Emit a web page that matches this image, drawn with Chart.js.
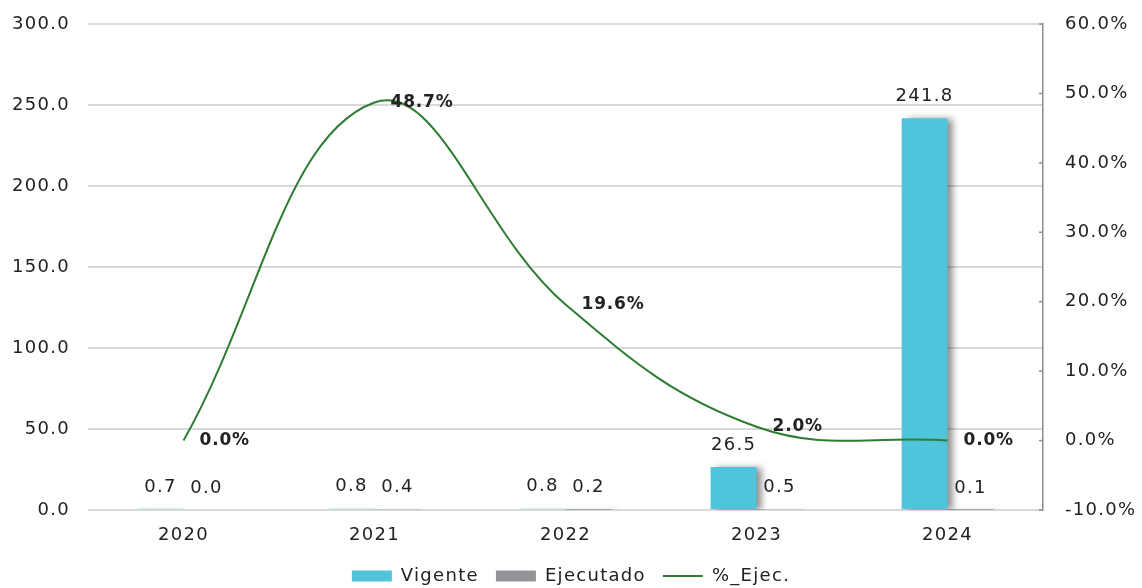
<!DOCTYPE html>
<html>
<head>
<meta charset="utf-8">
<script src="https://cdn.jsdelivr.net/npm/chart.js@4/dist/chart.umd.min.js"></script>
<style>
  html, body { margin: 0; padding: 0; background: #fff; }
  #wrap { width: 1142px; height: 588px; }
</style>
</head>
<body>
<div id="wrap"><canvas id="budgetChart"></canvas></div>
<script>
let years = ['2020', '2021', '2022', '2023', '2024'];
let vigente = [0.7, 0.8, 0.8, 26.5, 241.8];
let ejecutado = [0.0, 0.4, 0.2, 0.5, 0.1];
let pctEjec = [0.0, 48.7, 19.6, 2.0, 0.0];

const fontName = '"DejaVu Sans", sans-serif';
const textColor = '#222222';
const spacing = '1.3px';

// wider letters, like the original font
const letterSpace = {
  id: 'letterSpace',
  beforeUpdate(chart) { chart.ctx.letterSpacing = spacing; },
  beforeDraw(chart) { chart.ctx.letterSpacing = spacing; }
};

// bar shadow on the right side
const barShadow = {
  id: 'barShadow',
  beforeDatasetDraw(chart, args) {
    if (args.meta.type !== 'bar') return;
    const ctx = chart.ctx;
    ctx.save();
    ctx.shadowColor = 'rgba(0,0,0,0.45)';
    ctx.shadowBlur = 7;
    ctx.shadowOffsetX = 5;
    ctx.shadowOffsetY = 1;
  },
  afterDatasetDraw(chart, args) {
    if (args.meta.type !== 'bar') return;
    chart.ctx.restore();
  }
};

// small ticks on the inner side of the right axis
const rightTicks = {
  id: 'rightTicks',
  afterDraw(chart) {
    const s = chart.scales.y1;
    const ctx = chart.ctx;
    ctx.save();
    ctx.strokeStyle = '#8C8C8C';
    ctx.lineWidth = 1.5;
    s.ticks.forEach(t => {
      const y = s.getPixelForValue(t.value);
      ctx.beginPath();
      ctx.moveTo(s.left - 4, y);
      ctx.lineTo(s.left, y);
      ctx.stroke();
    });
    ctx.restore();
  }
};

// value labels
const valueLabels = {
  id: 'valueLabels',
  afterDatasetsDraw(chart) {
    const ctx = chart.ctx;
    chart.data.datasets.forEach((ds, i) => {
      const meta = chart.getDatasetMeta(i);
      meta.data.forEach((el, j) => {
        ctx.save();
        ctx.fillStyle = textColor;
        ctx.textBaseline = 'middle';
        if (meta.type === 'bar') {
          ctx.font = '18px ' + fontName;
          ctx.textAlign = 'center';
          ctx.fillText(ds.data[j].toFixed(1), el.x, el.y - 22);
        } else {
          ctx.letterSpacing = '0.8px';
          ctx.font = 'bold 17px ' + fontName;
          ctx.textAlign = 'left';
          ctx.fillText(ds.data[j].toFixed(1) + '%', el.x + 16, el.y);
        }
        ctx.restore();
      });
    });
  }
};

function fixSide(w) {
  return s => {
    s.width = w;
    s.paddingTop = 0;
    s.paddingBottom = 0;
  };
}

let ctx = document.getElementById('budgetChart').getContext('2d');
let chart = new Chart(ctx, {
  type: 'bar',
  data: {
    labels: years,
    datasets: [{
      label: 'Vigente',
      data: vigente,
      backgroundColor: '#4FC4DA',
      borderWidth: 0,
      pointStyle: 'rect',
      yAxisID: 'y',
      order: 1
    }, {
      label: 'Ejecutado',
      data: ejecutado,
      backgroundColor: '#939598',
      borderWidth: 0,
      pointStyle: 'rect',
      yAxisID: 'y',
      order: 1
    }, {
      type: 'line',
      label: '%_Ejec.',
      data: pctEjec,
      borderColor: '#2E7D32',
      backgroundColor: '#2E7D32',
      borderWidth: 2,
      tension: 0.4,
      pointRadius: 0,
      pointStyle: 'line',
      yAxisID: 'y1',
      order: 0
    }]
  },
  options: {
    responsive: true,
    maintainAspectRatio: false,
    animation: false,
    layout: { padding: { top: 24, left: 0, right: 0, bottom: -7 } },
    datasets: {
      bar: { barPercentage: 1, categoryPercentage: 0.48 }
    },
    scales: {
      x: {
        grid: { display: false, drawTicks: false },
        border: { display: false },
        ticks: { color: textColor, font: { family: fontName, size: 18 }, padding: 15 },
        afterFit: s => { s.height = 40; }
      },
      y: {
        min: 0, max: 300,
        ticks: {
          stepSize: 50, color: textColor, padding: 18,
          font: { family: fontName, size: 18 },
          callback: v => v.toFixed(1)
        },
        grid: { color: '#D9D9D9', lineWidth: 2, drawTicks: false },
        border: { display: false },
        afterFit: fixSide(88)
      },
      y1: {
        position: 'right',
        min: -10, max: 60,
        ticks: {
          stepSize: 10, color: textColor, padding: 22,
          font: { family: fontName, size: 18 },
          callback: v => v.toFixed(1) + '%'
        },
        grid: { drawOnChartArea: false, drawTicks: false },
        border: { display: true, color: '#8C8C8C', width: 1.5 },
        afterFit: fixSide(99)
      }
    },
    plugins: {
      legend: {
        position: 'bottom',
        labels: {
          usePointStyle: true,
          pointStyleWidth: 40,
          boxHeight: 11,
          padding: 17,
          color: textColor,
          font: { family: fontName, size: 18 },
          sort: (a, b) => a.datasetIndex - b.datasetIndex
        }
      },
      tooltip: { enabled: false }
    }
  },
  plugins: [letterSpace, barShadow, rightTicks, valueLabels]
});
</script>
</body>
</html>
